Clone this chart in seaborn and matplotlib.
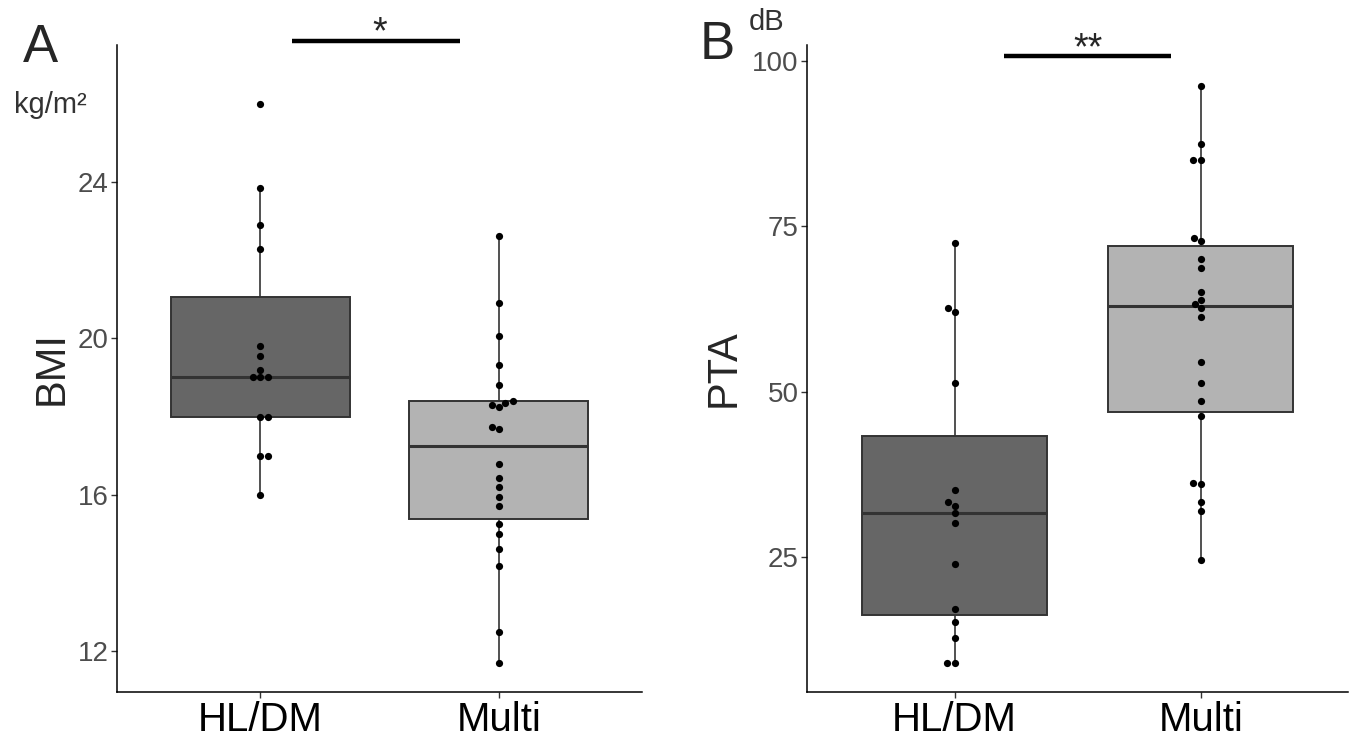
import pandas as pd
import matplotlib.pyplot as plt
import seaborn as sns

groups = ["HL/DM", "Multi"]

# BMI (kg/m2)
bmi_hldm = [26.0, 23.85, 22.9, 22.3, 19.8, 19.55, 19.2, 19.0, 19.0, 19.0,
            18.0, 18.0, 17.0, 17.0, 16.0]
bmi_multi = [22.62, 20.9, 20.06, 19.31, 18.8, 18.4, 18.35, 18.3, 18.25,
             17.72, 17.68, 16.79, 16.42, 16.2, 15.95, 15.7, 15.26, 15.0,
             14.6, 14.17, 12.49, 11.68]

# PTA (dB)
pta_hldm = [72.5, 62.6, 62.0, 51.35, 35.1, 33.3, 32.7, 31.6, 30.2, 23.9,
            17.1, 15.2, 12.7, 9.0, 9.0]
pta_multi = [96.2, 87.45, 85.0, 85.0, 73.2, 72.7, 70.0, 68.75, 65.1, 63.85,
             63.3, 62.6, 61.25, 54.4, 51.35, 48.6, 46.3, 36.2, 36.0, 33.3,
             32.0, 24.5]

bmi_ticks = [12, 16, 20, 24]
pta_ticks = [25, 50, 75, 100]

df_bmi = pd.DataFrame({
    "group": [groups[0]] * len(bmi_hldm) + [groups[1]] * len(bmi_multi),
    "value": bmi_hldm + bmi_multi,
})
df_pta = pd.DataFrame({
    "group": [groups[0]] * len(pta_hldm) + [groups[1]] * len(pta_multi),
    "value": pta_hldm + pta_multi,
})

sns.set_theme(style="ticks")
plt.rcParams['font.family'] = ['Liberation Sans', 'DejaVu Sans']

fig = plt.figure(figsize=(13.5, 7.42), dpi=100)
axA = fig.add_axes([0.0867, 0.0674, 0.389, 0.872])
axB = fig.add_axes([0.5978, 0.0674, 0.401, 0.872])

box_colors = ["#666666", "#B3B3B3"]


def draw_panel(ax, df, ylim, yticks):
    sns.boxplot(data=df, x="group", y="value", hue="group", palette=box_colors,
                order=groups, width=0.75, linecolor="#333333", linewidth=1.4,
                showfliers=False, legend=False, ax=ax,
                medianprops=dict(color="#333333", linewidth=2.2),
                whiskerprops=dict(color="#333333", linewidth=1.2),
                capprops=dict(linewidth=0))
    sns.swarmplot(data=df, x="group", y="value", order=groups, color="black",
                  size=5.2, ax=ax)
    ax.set_xlim(-0.6, 1.6)
    ax.set_ylim(*ylim)
    ax.set_yticks(yticks)
    ax.set_xlabel("")
    ax.tick_params(axis="y", labelsize=20, labelcolor="#4D4D4D", color="#333333",
                   length=4, width=1, pad=2)
    ax.tick_params(axis="x", labelsize=29, labelcolor="black", color="#333333",
                   length=4, width=1, pad=2.5)
    for s in ["left", "bottom"]:
        ax.spines[s].set_color("black")
        ax.spines[s].set_linewidth(1.1)
    sns.despine(ax=ax)


draw_panel(axA, df_bmi, (10.95, 27.51), bmi_ticks)
draw_panel(axB, df_pta, (4.58, 102.4), pta_ticks)

axA.set_ylabel("BMI", fontsize=30)
axA.yaxis.set_label_coords(-0.087, 0.5)
axB.set_ylabel("PTA", fontsize=30)
axB.yaxis.set_label_coords(-0.118, 0.5)

# units
axA.text(-0.128, 0.907, "kg/m²", transform=axA.transAxes, fontsize=21,
         color="#333333", ha="center", va="center")
axB.text(-0.0756, 1.0355, "dB", transform=axB.transAxes, fontsize=21,
         color="#333333", ha="center", va="center")

# significance bars
axA.plot([0.134, 0.836], [27.62, 27.62], color="black", lw=3.2, clip_on=False,
         solid_capstyle="butt")
axA.text(0.5, 27.82, "*", fontsize=27, ha="center", va="center")
axB.plot([0.2, 0.88], [100.76, 100.76], color="black", lw=3.2, clip_on=False,
         solid_capstyle="butt")
axB.text(0.54, 101.7, "**", fontsize=27, ha="center", va="center")

# panel letters
fig.text(0.0296, 0.935, "A", fontsize=38, ha="center", va="center")
fig.text(0.531, 0.94, "B", fontsize=38, ha="center", va="center")

plt.savefig("out.png", dpi=100)
